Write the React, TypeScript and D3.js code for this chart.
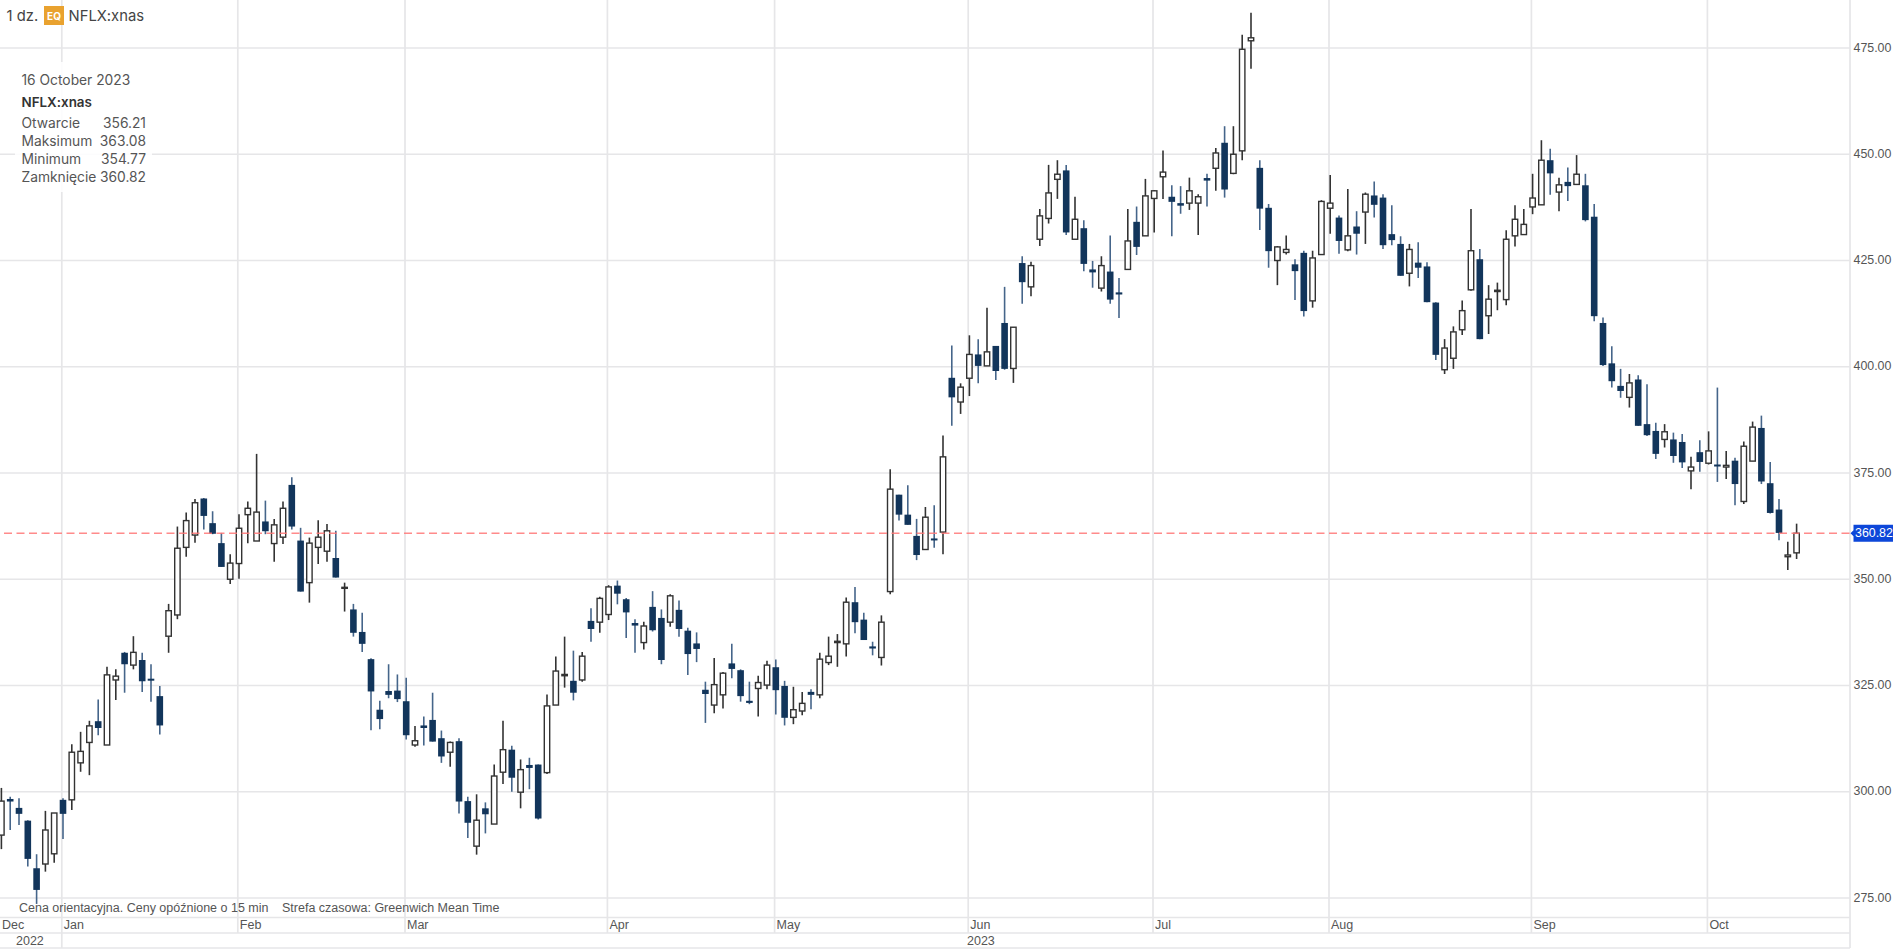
import * as d3 from "d3";

const WIDTH = 1897;
const HEIGHT = 950;

// daily bars, Dec 2022 -> 16 Oct 2023
const opens = [
  289.8,298.3,296.2,293.2,282.0,283.0,285.4,298.1,298.1,306.8,
  311.6,316.6,311.0,326.3,332.7,329.8,331.0,326.6,322.5,336.6,
  341.6,357.5,360.4,369.0,363.2,358.5,350.0,353.7,365.2,359.0,
  363.6,358.4,359.9,372.2,359.1,349.2,357.5,356.6,355.0,347.9,
  342.9,337.6,331.2,319.3,323.7,323.8,321.3,311.0,315.6,316.9,
  312.6,309.3,311.9,297.8,287.2,296.1,292.4,304.6,309.9,299.9,
  306.3,306.4,304.5,320.4,327.3,326.1,326.3,340.2,339.9,341.7,
  348.5,345.3,339.7,335.1,343.5,340.9,339.9,342.8,337.9,334.9,
  324.0,320.4,322.8,330.2,328.6,321.4,324.3,325.1,329.3,324.9,
  317.5,319.0,323.5,322.8,330.4,335.1,334.8,344.6,340.5,334.2,
  331.6,347.1,369.9,365.2,360.2,357.0,359.6,361.1,397.4,391.7,
  397.3,402.9,400.2,404.9,410.3,399.6,424.4,418.8,430.0,434.9,
  444.1,446.2,430.0,432.6,422.9,418.5,422.4,417.5,422.9,434.1,
  430.8,439.6,444.7,440.0,438.5,438.5,438.5,444.4,446.7,452.7,
  445.5,450.8,476.7,446.8,437.4,425.0,426.9,424.1,426.8,415.5,
  426.4,437.3,435.1,427.5,433.0,436.4,440.3,439.8,431.2,428.9,
  422.0,424.5,423.6,415.1,399.3,402.0,408.7,418.1,425.3,412.0,
  417.7,415.8,430.8,431.1,437.6,438.1,448.6,441.1,443.5,442.9,
  442.7,435.3,410.3,400.8,395.5,392.8,397.0,386.5,384.9,382.9,
  382.9,382.3,375.5,379.9,377.3,377.0,376.4,377.9,368.3,377.8,
  385.6,372.6,366.4,355.3,356.21,
];
const highs = [
  300.9,298.8,298.5,293.3,285.3,295.5,295.0,298.5,311.2,314.1,
  316.7,321.7,329.4,328.8,332.9,336.6,332.7,330.0,324.9,344.2,
  362.4,365.7,368.9,369.1,366.0,360.9,355.9,365.3,368.3,379.5,
  368.5,364.2,368.3,374.0,362.1,359.8,363.9,363.0,361.4,349.2,
  344.2,342.1,331.4,321.4,330.0,327.6,326.8,315.5,317.7,323.3,
  314.4,311.8,312.6,298.8,299.4,297.5,306.4,316.7,310.8,307.6,
  308.0,306.4,322.9,331.8,336.5,333.2,332.9,343.2,345.9,348.6,
  349.7,345.6,340.6,340.0,347.2,342.9,346.5,345.0,338.6,337.5,
  325.9,331.5,328.2,334.8,328.8,325.9,327.3,330.8,331.1,326.1,
  324.7,323.5,324.1,332.7,336.5,337.1,345.7,348.2,342.1,335.3,
  341.5,375.9,369.9,372.1,364.2,367.0,367.4,383.8,405.0,396.1,
  407.4,406.5,413.9,404.9,418.8,409.3,426.0,424.7,437.1,447.5,
  448.6,447.5,440.0,434.5,424.9,426.0,430.9,420.9,437.1,437.7,
  444.2,441.6,450.9,442.7,442.5,444.5,440.6,445.4,451.5,456.6,
  456.6,478.1,483.3,448.6,438.3,428.4,430.9,425.3,427.3,427.3,
  439.2,445.1,435.6,441.8,436.6,441.0,443.6,440.6,438.0,430.7,
  428.9,429.3,424.6,415.2,406.5,409.5,415.6,437.1,427.7,419.2,
  419.8,432.1,438.0,437.1,445.4,453.3,451.3,444.5,446.9,449.8,
  445.4,438.3,411.6,404.8,399.5,398.3,398.0,395.9,386.8,386.5,
  384.5,384.2,378.8,382.7,384.8,395.1,380.2,378.6,382.4,387.1,
  388.5,377.6,368.9,358.8,363.08,
];
const lows = [
  286.5,291.0,292.2,282.4,273.6,281.2,283.3,288.9,295.7,304.7,
  303.9,313.3,311.0,321.6,323.3,328.8,323.5,321.2,313.5,332.7,
  340.6,355.3,358.6,361.7,360.6,352.9,348.9,350.1,358.5,359.0,
  360.6,354.1,358.3,361.7,347.1,344.5,353.6,354.1,350.4,342.4,
  336.5,332.9,314.5,314.7,322.0,321.1,312.3,310.6,310.9,311.8,
  306.8,305.9,294.9,289.1,285.2,290.2,292.4,301.8,300.0,296.1,
  300.6,293.5,304.2,320.4,324.5,321.5,325.9,335.3,337.4,340.4,
  344.1,336.2,332.7,333.5,337.7,330.0,338.8,336.5,327.5,330.5,
  316.2,318.5,319.6,326.7,321.2,320.6,317.7,324.1,318.2,315.6,
  315.9,318.0,319.4,322.0,329.8,329.4,331.8,337.3,335.7,332.1,
  329.7,346.5,363.8,362.8,354.5,357.0,357.4,355.9,386.1,388.9,
  393.1,396.1,400.2,396.9,399.3,396.2,414.8,416.6,428.4,433.7,
  439.5,431.0,430.0,422.5,418.6,417.7,414.8,411.5,422.9,426.3,
  430.8,431.6,439.5,430.7,436.0,436.9,431.0,437.7,441.4,439.8,
  445.3,448.6,470.1,432.2,423.3,419.2,426.4,415.7,411.8,413.9,
  426.4,431.3,426.6,427.2,426.4,428.9,435.1,427.7,428.6,421.4,
  418.9,420.9,415.2,401.6,398.3,399.5,407.5,417.9,406.5,407.7,
  413.3,414.5,428.3,431.1,435.9,438.1,440.5,436.6,439.0,442.9,
  434.2,410.7,400.2,395.1,392.7,390.4,386.1,383.7,378.3,381.0,
  377.4,376.2,371.2,375.3,377.0,372.9,373.6,367.4,367.7,377.8,
  372.4,365.5,359.2,352.2,354.77,
];
const closes = [
  297.8,297.7,294.8,284.2,276.9,291.0,295.0,294.8,309.3,309.5,
  315.5,315.0,327.5,327.2,330.0,332.8,326.0,326.2,315.6,342.6,
  357.3,363.8,368.0,364.9,360.7,352.9,353.8,362.0,366.7,365.8,
  361.3,362.8,366.7,362.4,347.1,358.5,359.9,361.4,350.4,348.1,
  337.4,334.8,323.6,317.1,322.8,321.8,313.3,312.0,315.0,311.8,
  308.3,311.6,297.7,292.7,293.3,294.7,303.7,309.9,303.3,305.2,
  305.6,293.7,320.2,328.4,327.6,323.3,331.9,338.3,345.5,348.2,
  346.6,342.2,339.1,339.0,338.0,331.0,346.1,338.3,332.4,333.6,
  323.0,325.2,327.9,328.9,322.5,320.9,325.7,329.8,323.9,317.4,
  319.3,320.8,322.8,331.2,331.9,335.4,344.6,339.9,335.7,333.7,
  339.9,371.2,365.2,362.8,355.7,364.6,359.2,378.8,392.8,395.2,
  402.9,400.2,403.5,399.0,399.5,409.3,419.9,423.8,435.5,440.9,
  445.3,431.6,434.7,424.2,422.2,423.8,415.8,417.0,429.6,428.2,
  440.2,441.4,445.8,438.8,437.9,441.4,440.0,443.8,450.3,441.7,
  450.0,474.7,477.4,437.2,427.2,428.2,427.6,422.5,413.1,425.6,
  438.9,438.5,429.6,430.8,431.3,440.6,438.1,428.6,429.8,421.4,
  427.6,423.3,415.2,402.8,404.4,408.2,413.2,427.3,406.5,415.9,
  418.0,430.0,434.7,433.5,439.7,448.6,445.5,442.8,442.5,445.3,
  434.5,411.9,400.4,396.6,394.3,396.2,386.1,383.9,379.5,384.7,
  379.0,377.5,376.4,377.6,380.2,376.7,376.8,372.4,381.3,385.8,
  373.0,365.6,360.9,355.7,360.82,
];

const priceTicks = [275, 300, 325, 350, 375, 400, 425, 450, 475];
const monthNames = ["Jan", "Feb", "Mar", "Apr", "May", "Jun", "Jul", "Aug", "Sep", "Oct"];
const monthBars = [7, 27, 46, 69, 88, 110, 131, 151, 174, 194];
const lastClose = 360.82;

const tooltipDate = "16 October 2023";
const tooltipSymbol = "NFLX:xnas";
const tooltipRows = [
  ["Otwarcie", "356.21"],
  ["Maksimum", "363.08"],
  ["Minimum", "354.77"],
  ["Zamknięcie", "360.82"],
];

const GRID = "#e6e6e8";
const NAVY = "#12355b";
const NAVY_WICK = "#45658a";
const UP_LINE = "#333333";
const AXIS_TEXT = "#555555";
const ARIAL = "'Liberation Sans', Arial, sans-serif";
const INTER = "Inter, sans-serif";

const AXIS_RIGHT = 1850;
const RULE_1 = 917.5;
const RULE_2 = 933;
const RULE_3 = 948;

export default function App() {
  const x = d3.scaleLinear().domain([0, opens.length - 1]).range([1.4, 1796.6]);
  const y = d3.scaleLinear().domain([275, 475]).range([898, 48]);
  const gridX = (bar: number) => x(bar) - 1.2;
  const lastY = y(lastClose);

  return (
    <svg
      width={WIDTH}
      height={HEIGHT}
      style={{ position: "absolute", left: 0, top: 0, background: "#fff" }}
    >
      {/* grid */}
      <g stroke={GRID} strokeWidth={1.7}>
        {priceTicks.map((t) => (
          <line key={t} x1={0} x2={AXIS_RIGHT} y1={y(t)} y2={y(t)} />
        ))}
        {monthBars.map((b, i) => (
          <line key={b} x1={gridX(b)} x2={gridX(b)} y1={0} y2={i === 0 ? RULE_3 : RULE_2} />
        ))}
        <line x1={0} x2={AXIS_RIGHT} y1={RULE_1} y2={RULE_1} />
        <line x1={0} x2={AXIS_RIGHT} y1={RULE_2} y2={RULE_2} />
        <line x1={0} x2={AXIS_RIGHT} y1={RULE_3} y2={RULE_3} />
        <line x1={AXIS_RIGHT} x2={AXIS_RIGHT} y1={0} y2={RULE_3} />
      </g>

      {/* candles */}
      <g>
        {opens.map((o, i) => {
          const c = closes[i];
          const up = c >= o;
          const top = y(Math.max(o, c));
          const bottom = y(Math.min(o, c));
          return (
            <g key={i}>
              <line
                x1={x(i)}
                x2={x(i)}
                y1={y(highs[i])}
                y2={y(lows[i])}
                stroke={up ? UP_LINE : NAVY_WICK}
                strokeWidth={1.6}
              />
              {up ? (
                <rect
                  x={x(i) - 2.7}
                  y={top}
                  width={5.4}
                  height={Math.max(bottom - top, 1)}
                  fill="#fff"
                  stroke={UP_LINE}
                  strokeWidth={1.4}
                />
              ) : (
                <rect
                  x={x(i) - 3.3}
                  y={top}
                  width={6.6}
                  height={Math.max(bottom - top, 2)}
                  fill={NAVY}
                />
              )}
            </g>
          );
        })}
      </g>

      {/* last price line */}
      <line
        x1={4}
        x2={AXIS_RIGHT}
        y1={lastY}
        y2={lastY}
        stroke="#f77"
        strokeOpacity={0.85}
        strokeWidth={1.7}
        strokeDasharray="8 4.5"
      />

      {/* price axis */}
      <g fontFamily={ARIAL} fontSize={12.4} fill={AXIS_TEXT}>
        {priceTicks.map((t) => (
          <text key={t} x={1853.5} y={y(t) - 0.5} dominantBaseline="central">
            {t.toFixed(2)}
          </text>
        ))}
      </g>
      <path
        d={`M1850.5 ${lastY} L1853.5 ${lastY - 3} L1853.5 ${lastY - 8.5} L1893 ${lastY - 8.5} L1893 ${lastY + 8.5} L1853.5 ${lastY + 8.5} L1853.5 ${lastY + 3} Z`}
        fill="#0d47d9"
      />
      <text
        x={1855}
        y={lastY}
        fontFamily={ARIAL}
        fontSize={12.4}
        fill="#fff"
        dominantBaseline="central"
      >
        {lastClose.toFixed(2)}
      </text>

      {/* time axis */}
      <g fontFamily={ARIAL} fontSize={12.5} fill={AXIS_TEXT}>
        <text x={19} y={908} dominantBaseline="central">
          Cena orientacyjna. Ceny opóźnione o 15 min
        </text>
        <text x={282} y={908} dominantBaseline="central">
          Strefa czasowa: Greenwich Mean Time
        </text>
        <text x={2} y={925} dominantBaseline="central">Dec</text>
        {monthNames.map((m, i) => (
          <text key={m} x={gridX(monthBars[i]) + 2} y={925} dominantBaseline="central">
            {m}
          </text>
        ))}
        <text x={16} y={941} dominantBaseline="central">2022</text>
        <text x={967} y={941} dominantBaseline="central">2023</text>
      </g>

      {/* header */}
      <g fontFamily={INTER} fontSize={14.8} fill="#444" dominantBaseline="central">
        <text x={6.5} y={16}>1 dz.</text>
        <rect x={44} y={6} width={20} height={19} fill="#e9a22f" />
        <text x={54} y={16} fontSize={10} fontWeight={700} fill="#fff" textAnchor="middle">EQ</text>
        <text x={68.5} y={16}>NFLX:xnas</text>
      </g>

      {/* tooltip */}
      <rect x={15} y={62} width={137} height={130} fill="#fff" fillOpacity={0.88} />
      <g fontFamily={INTER} fontSize={13.8} fill="#555" dominantBaseline="central">
        <text x={21.5} y={80}>{tooltipDate}</text>
        <text x={21.5} y={102} fontSize={13.4} fontWeight={600} fill="#333">{tooltipSymbol}</text>
        {tooltipRows.map(([label, value], i) => (
          <g key={label}>
            <text x={21.5} y={123 + i * 18}>{label}</text>
            <text x={146} y={123 + i * 18} textAnchor="end">{value}</text>
          </g>
        ))}
      </g>
    </svg>
  );
}
